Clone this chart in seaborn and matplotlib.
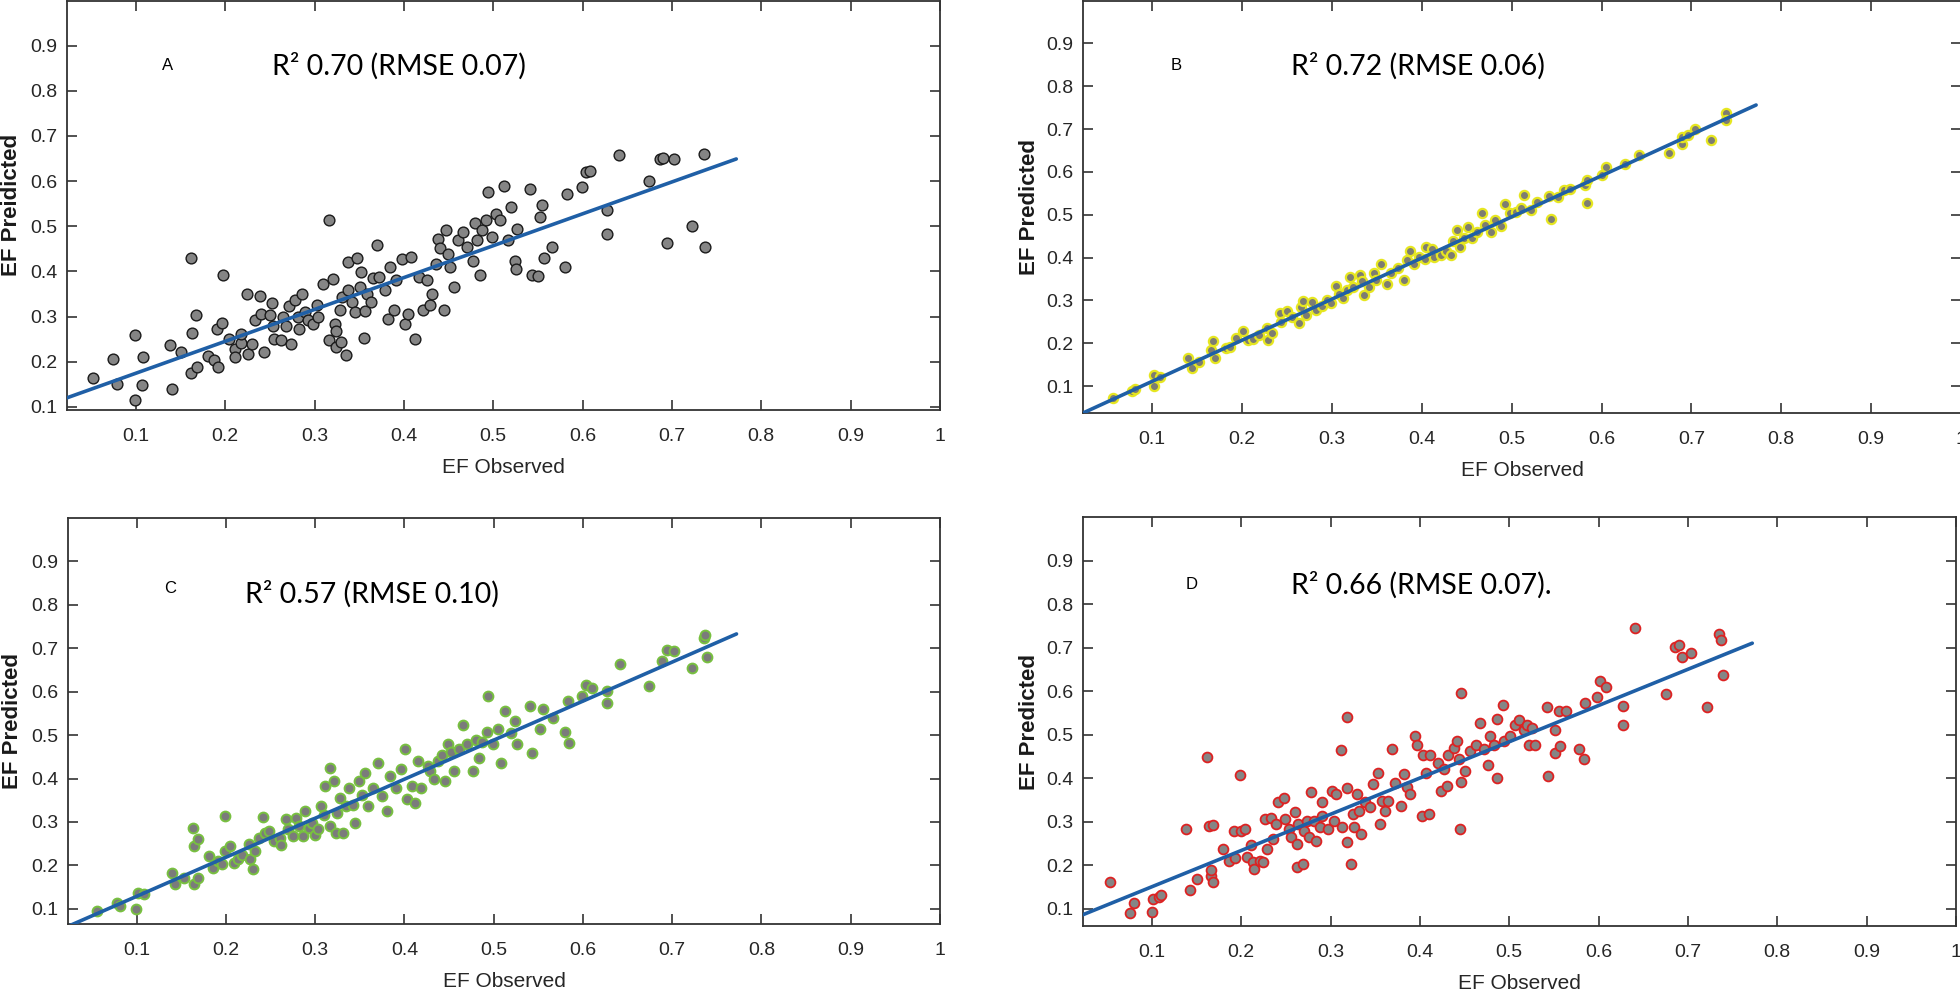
import numpy as np
import pandas as pd
import matplotlib
matplotlib.use("Agg")
import matplotlib.pyplot as plt
import seaborn as sns

# ---------------- data ----------------
obs_a = [0.052, 0.074, 0.079, 0.099, 0.099, 0.107, 0.108, 0.138, 0.141, 0.151, 0.162, 0.163, 0.162, 0.167,
         0.169, 0.181, 0.188, 0.191, 0.192, 0.197, 0.198, 0.204, 0.211, 0.211, 0.218, 0.225, 0.226, 0.230,
         0.233, 0.239, 0.240, 0.250, 0.252, 0.254, 0.255, 0.262, 0.265, 0.268, 0.272, 0.274, 0.278, 0.282,
         0.283, 0.286, 0.289, 0.293, 0.298, 0.303, 0.304, 0.310, 0.316, 0.316, 0.321, 0.323, 0.324, 0.324,
         0.328, 0.330, 0.331, 0.335, 0.337, 0.337, 0.342, 0.345, 0.347, 0.351, 0.352, 0.355, 0.356, 0.359,
         0.363, 0.365, 0.370, 0.372, 0.379, 0.382, 0.384, 0.389, 0.391, 0.398, 0.401, 0.405, 0.408, 0.412,
         0.417, 0.421, 0.426, 0.429, 0.431, 0.436, 0.438, 0.440, 0.445, 0.447, 0.449, 0.452, 0.456, 0.461,
         0.466, 0.471, 0.477, 0.480, 0.482, 0.485, 0.487, 0.492, 0.494, 0.499, 0.503, 0.508, 0.512, 0.517,
         0.520, 0.524, 0.526, 0.527, 0.541, 0.543, 0.550, 0.552, 0.555, 0.557, 0.566, 0.580, 0.583, 0.599,
         0.604, 0.608, 0.627, 0.627, 0.641, 0.674, 0.687, 0.690, 0.694, 0.702, 0.722, 0.736, 0.737, 0.218,
         0.243]
pred_a = [0.163, 0.207, 0.151, 0.260, 0.116, 0.149, 0.210, 0.236, 0.140, 0.222, 0.430, 0.264, 0.174, 0.303,
          0.188, 0.212, 0.203, 0.273, 0.188, 0.286, 0.391, 0.251, 0.229, 0.210, 0.241, 0.351, 0.218, 0.240,
          0.293, 0.345, 0.306, 0.303, 0.330, 0.280, 0.251, 0.247, 0.300, 0.280, 0.323, 0.240, 0.337, 0.299,
          0.273, 0.349, 0.310, 0.292, 0.284, 0.325, 0.300, 0.373, 0.513, 0.247, 0.384, 0.284, 0.269, 0.233,
          0.314, 0.244, 0.343, 0.214, 0.421, 0.358, 0.332, 0.310, 0.430, 0.365, 0.398, 0.253, 0.313, 0.351,
          0.332, 0.385, 0.458, 0.387, 0.358, 0.295, 0.410, 0.314, 0.380, 0.428, 0.284, 0.306, 0.432, 0.251,
          0.387, 0.314, 0.380, 0.325, 0.351, 0.417, 0.472, 0.452, 0.314, 0.491, 0.439, 0.410, 0.365, 0.469,
          0.488, 0.454, 0.424, 0.507, 0.469, 0.391, 0.491, 0.513, 0.576, 0.476, 0.528, 0.513, 0.590, 0.469,
          0.542, 0.424, 0.406, 0.494, 0.583, 0.391, 0.389, 0.520, 0.546, 0.430, 0.454, 0.410, 0.572, 0.587,
          0.620, 0.623, 0.535, 0.483, 0.657, 0.600, 0.649, 0.651, 0.463, 0.649, 0.500, 0.660, 0.454, 0.261,
          0.222]

obs_b = [0.056, 0.077, 0.081, 0.102, 0.102, 0.109, 0.140, 0.144, 0.152, 0.165, 0.168, 0.170, 0.182, 0.187,
         0.193, 0.201, 0.207, 0.212, 0.219, 0.228, 0.229, 0.233, 0.242, 0.243, 0.250, 0.256, 0.263, 0.266,
         0.268, 0.271, 0.278, 0.282, 0.289, 0.294, 0.299, 0.305, 0.308, 0.312, 0.317, 0.320, 0.324, 0.331,
         0.333, 0.336, 0.341, 0.347, 0.349, 0.355, 0.361, 0.366, 0.373, 0.380, 0.383, 0.387, 0.391, 0.397,
         0.404, 0.405, 0.411, 0.414, 0.421, 0.427, 0.433, 0.435, 0.439, 0.442, 0.447, 0.451, 0.456, 0.461,
         0.467, 0.470, 0.477, 0.482, 0.488, 0.493, 0.498, 0.505, 0.510, 0.514, 0.521, 0.528, 0.542, 0.544,
         0.552, 0.558, 0.565, 0.582, 0.584, 0.584, 0.601, 0.605, 0.626, 0.642, 0.675, 0.689, 0.690, 0.696,
         0.704, 0.722, 0.738, 0.739]
pred_b = [0.071, 0.089, 0.092, 0.126, 0.100, 0.122, 0.165, 0.141, 0.157, 0.184, 0.206, 0.165, 0.188, 0.192,
          0.211, 0.229, 0.207, 0.209, 0.219, 0.235, 0.207, 0.223, 0.270, 0.250, 0.274, 0.262, 0.246, 0.285,
          0.299, 0.266, 0.297, 0.277, 0.287, 0.301, 0.293, 0.333, 0.315, 0.305, 0.324, 0.354, 0.332, 0.359,
          0.344, 0.312, 0.332, 0.365, 0.347, 0.386, 0.338, 0.363, 0.375, 0.347, 0.394, 0.416, 0.386, 0.402,
          0.396, 0.425, 0.421, 0.402, 0.406, 0.416, 0.406, 0.439, 0.464, 0.425, 0.445, 0.472, 0.445, 0.460,
          0.503, 0.476, 0.460, 0.488, 0.474, 0.526, 0.505, 0.507, 0.515, 0.546, 0.512, 0.530, 0.544, 0.491,
          0.541, 0.558, 0.561, 0.569, 0.581, 0.528, 0.593, 0.612, 0.618, 0.639, 0.645, 0.665, 0.681, 0.686,
          0.699, 0.674, 0.737, 0.721]

obs_c = [0.055, 0.078, 0.081, 0.099, 0.101, 0.108, 0.139, 0.143, 0.153, 0.163, 0.164, 0.169, 0.164, 0.169,
         0.181, 0.185, 0.191, 0.195, 0.199, 0.199, 0.204, 0.209, 0.213, 0.218, 0.226, 0.227, 0.230, 0.232,
         0.237, 0.241, 0.244, 0.248, 0.254, 0.260, 0.262, 0.267, 0.269, 0.275, 0.279, 0.282, 0.286, 0.288,
         0.293, 0.296, 0.300, 0.303, 0.307, 0.310, 0.311, 0.316, 0.317, 0.321, 0.323, 0.324, 0.328, 0.331,
         0.335, 0.338, 0.342, 0.345, 0.349, 0.352, 0.356, 0.359, 0.365, 0.370, 0.375, 0.380, 0.384, 0.391,
         0.396, 0.401, 0.403, 0.408, 0.412, 0.415, 0.419, 0.426, 0.429, 0.433, 0.438, 0.442, 0.445, 0.449,
         0.452, 0.456, 0.461, 0.466, 0.470, 0.477, 0.480, 0.484, 0.487, 0.492, 0.494, 0.499, 0.505, 0.508,
         0.513, 0.519, 0.524, 0.526, 0.541, 0.543, 0.552, 0.555, 0.566, 0.580, 0.583, 0.584, 0.599, 0.603,
         0.610, 0.627, 0.627, 0.641, 0.674, 0.688, 0.694, 0.702, 0.722, 0.736, 0.737, 0.739]
pred_c = [0.096, 0.114, 0.106, 0.100, 0.137, 0.133, 0.183, 0.158, 0.171, 0.287, 0.244, 0.260, 0.158, 0.171,
          0.221, 0.194, 0.210, 0.204, 0.313, 0.233, 0.244, 0.206, 0.214, 0.225, 0.250, 0.214, 0.191, 0.233,
          0.263, 0.311, 0.275, 0.279, 0.256, 0.263, 0.248, 0.306, 0.283, 0.267, 0.310, 0.290, 0.267, 0.325,
          0.287, 0.298, 0.271, 0.283, 0.336, 0.317, 0.382, 0.425, 0.290, 0.394, 0.275, 0.321, 0.356, 0.275,
          0.336, 0.379, 0.340, 0.298, 0.394, 0.363, 0.413, 0.336, 0.379, 0.436, 0.359, 0.325, 0.405, 0.379,
          0.421, 0.467, 0.352, 0.382, 0.344, 0.440, 0.379, 0.428, 0.417, 0.398, 0.440, 0.455, 0.394, 0.480,
          0.461, 0.417, 0.467, 0.524, 0.480, 0.417, 0.488, 0.448, 0.484, 0.507, 0.589, 0.480, 0.515, 0.436,
          0.555, 0.505, 0.532, 0.480, 0.566, 0.459, 0.515, 0.559, 0.540, 0.507, 0.578, 0.482, 0.589, 0.616,
          0.608, 0.601, 0.574, 0.664, 0.612, 0.670, 0.695, 0.693, 0.655, 0.724, 0.731, 0.679]

obs_d = [0.053, 0.076, 0.080, 0.100, 0.101, 0.108, 0.110, 0.138, 0.143, 0.151, 0.162, 0.164, 0.166, 0.169,
         0.169, 0.166, 0.180, 0.186, 0.192, 0.193, 0.199, 0.200, 0.204, 0.207, 0.211, 0.213, 0.214, 0.221,
         0.224, 0.227, 0.229, 0.233, 0.236, 0.239, 0.241, 0.248, 0.249, 0.253, 0.256, 0.260, 0.262, 0.263,
         0.264, 0.269, 0.270, 0.274, 0.276, 0.278, 0.281, 0.284, 0.288, 0.290, 0.291, 0.297, 0.302, 0.304,
         0.306, 0.313, 0.312, 0.318, 0.319, 0.319, 0.323, 0.325, 0.326, 0.330, 0.332, 0.334, 0.339, 0.344,
         0.347, 0.353, 0.355, 0.358, 0.361, 0.364, 0.369, 0.372, 0.379, 0.382, 0.386, 0.389, 0.395, 0.397,
         0.402, 0.404, 0.407, 0.410, 0.411, 0.420, 0.424, 0.427, 0.430, 0.432, 0.438, 0.442, 0.444, 0.445,
         0.446, 0.446, 0.451, 0.456, 0.463, 0.467, 0.472, 0.476, 0.479, 0.483, 0.486, 0.486, 0.493, 0.494,
         0.501, 0.507, 0.511, 0.516, 0.520, 0.522, 0.529, 0.525, 0.542, 0.543, 0.551, 0.551, 0.556, 0.557,
         0.564, 0.578, 0.584, 0.585, 0.598, 0.602, 0.608, 0.627, 0.627, 0.641, 0.675, 0.686, 0.690, 0.693,
         0.703, 0.721, 0.735, 0.737, 0.739]
pred_d = [0.162, 0.091, 0.114, 0.092, 0.121, 0.127, 0.132, 0.284, 0.142, 0.167, 0.449, 0.289, 0.176, 0.292,
          0.161, 0.188, 0.236, 0.210, 0.279, 0.216, 0.406, 0.279, 0.283, 0.218, 0.246, 0.207, 0.191, 0.210,
          0.207, 0.307, 0.237, 0.309, 0.260, 0.294, 0.345, 0.355, 0.306, 0.283, 0.264, 0.321, 0.249, 0.195,
          0.294, 0.203, 0.279, 0.302, 0.264, 0.367, 0.302, 0.256, 0.287, 0.344, 0.313, 0.283, 0.370, 0.302,
          0.363, 0.287, 0.464, 0.540, 0.378, 0.252, 0.203, 0.317, 0.287, 0.363, 0.325, 0.272, 0.344, 0.333,
          0.386, 0.412, 0.294, 0.347, 0.325, 0.347, 0.466, 0.389, 0.336, 0.409, 0.379, 0.363, 0.496, 0.477,
          0.313, 0.454, 0.412, 0.317, 0.454, 0.435, 0.370, 0.420, 0.382, 0.454, 0.470, 0.485, 0.443, 0.283,
          0.595, 0.390, 0.416, 0.462, 0.477, 0.527, 0.466, 0.431, 0.496, 0.477, 0.536, 0.401, 0.568, 0.485,
          0.496, 0.523, 0.534, 0.511, 0.523, 0.477, 0.477, 0.515, 0.563, 0.405, 0.511, 0.457, 0.553, 0.473,
          0.553, 0.466, 0.443, 0.572, 0.586, 0.622, 0.609, 0.565, 0.521, 0.744, 0.593, 0.702, 0.706, 0.679,
          0.688, 0.563, 0.732, 0.717, 0.637]

# fitted regression lines (end points)
fit_x = [0.023, 0.772]
fit_a = [0.120, 0.649]
fit_b = [0.037, 0.756]
fit_c = [0.0596, 0.733]
fit_d = [0.086, 0.710]

panel_letters = ["A", "B", "C", "D"]
stat_texts = ["R\u00b2 0.70 (RMSE 0.07)", "R\u00b2 0.72 (RMSE 0.06)",
              "R\u00b2 0.57 (RMSE 0.10)", "R\u00b2 0.66 (RMSE 0.07)."]
ylabels = ["EF Preidicted", "EF Predicted", "EF Predicted", "EF Predicted"]
xlabel = "EF Observed"
x_ticks = [0.1, 0.2, 0.3, 0.4, 0.5, 0.6, 0.7, 0.8, 0.9, 1.0]
x_tick_labels = ["0.1", "0.2", "0.3", "0.4", "0.5", "0.6", "0.7", "0.8", "0.9", "1"]
y_ticks = [0.1, 0.2, 0.3, 0.4, 0.5, 0.6, 0.7, 0.8, 0.9]
y_tick_labels = ["0.1", "0.2", "0.3", "0.4", "0.5", "0.6", "0.7", "0.8", "0.9"]

# ---------------- styling ----------------
sns.set_theme(style="white")
plt.rcParams['font.family'] = ['Liberation Sans', 'DejaVu Sans']

fig = plt.figure(figsize=(19.6, 9.9), dpi=100)
W, H = 1960.0, 990.0

def place(l, r, t, b):
    return [l / W, 1 - b / H, (r - l) / W, (b - t) / H]

panels = [
    dict(rect=place(67, 940, 0.5, 410), xlim=(0.023, 1.0), ylim=(0.093, 1.0), x=obs_a, y=pred_a, fit=fit_a,
         face="#858585", edge="#1a1a1a", lw=1.0, s=60, letter_xy=(0.135, 0.855), stat_xy=(0.252, 0.855),
         ylab_x=-0.0515),
    dict(rect=place(1083, 1961, 0.5, 413), xlim=(0.023, 1.0), ylim=(0.037, 1.0), x=obs_b, y=pred_b, fit=fit_b,
         face="#7d7d72", edge="#e6e620", lw=1.6, s=44, letter_xy=(0.127, 0.848), stat_xy=(0.254, 0.848),
         ylab_x=-0.049),
    dict(rect=place(68, 940, 518, 924), xlim=(0.023, 1.0), ylim=(0.065, 1.0), x=obs_c, y=pred_c, fit=fit_c,
         face="#7b7b7b", edge="#78c040", lw=1.4, s=50, letter_xy=(0.137, 0.838), stat_xy=(0.221, 0.824),
         ylab_x=-0.0515),
    dict(rect=place(1083, 1956, 517, 926), xlim=(0.023, 1.0), ylim=(0.06, 1.0), x=obs_d, y=pred_d, fit=fit_d,
         face="#858585", edge="#dd2222", lw=1.3, s=50, letter_xy=(0.145, 0.845), stat_xy=(0.256, 0.843),
         ylab_x=-0.049),
]

for i, p in enumerate(panels):
    ax = fig.add_axes(p["rect"])
    df = pd.DataFrame({"obs": p["x"], "pred": p["y"]})
    sns.scatterplot(data=df, x="obs", y="pred", ax=ax, s=p["s"], color=p["face"],
                    edgecolor=p["edge"], linewidth=p["lw"], zorder=2, legend=False)
    fdf = pd.DataFrame({"obs": fit_x, "pred": p["fit"]})
    sns.lineplot(data=fdf, x="obs", y="pred", ax=ax, color="#1f5fa6", linewidth=2.6,
                 zorder=3, legend=False)
    ax.set_xlim(*p["xlim"])
    ax.set_ylim(*p["ylim"])
    ax.set_xticks(x_ticks)
    ax.set_xticklabels(x_tick_labels)
    ax.set_yticks(y_ticks)
    ax.set_yticklabels(y_tick_labels)
    ax.tick_params(axis="both", which="major", direction="in", length=7, width=1.2,
                   color="#333333", labelsize=14, labelcolor="#262626",
                   top=True, right=True, bottom=True, left=True)
    ax.tick_params(axis="x", pad=13)
    ax.tick_params(axis="y", pad=7)
    for sp in ax.spines.values():
        sp.set_visible(True)
        sp.set_color("#333333")
        sp.set_linewidth(1.3)
    ax.set_xlabel(xlabel, fontsize=15, color="#262626", labelpad=9)
    ax.set_ylabel(ylabels[i], fontsize=16, color="#1a1a1a", fontweight="bold")
    ax.yaxis.set_label_coords(p["ylab_x"], 0.5)
    ax.grid(False)
    ax.set_facecolor("white")
    ax.text(p["letter_xy"][0], p["letter_xy"][1], panel_letters[i], fontsize=12,
            family=["Liberation Sans", "DejaVu Sans"], color="black", ha="center", va="center")
    ax.text(p["stat_xy"][0], p["stat_xy"][1], stat_texts[i], fontsize=20.5,
            family=["Lato", "DejaVu Sans"], color="black", ha="left", va="center")

fig.savefig("out.png", dpi=100, facecolor="white")
